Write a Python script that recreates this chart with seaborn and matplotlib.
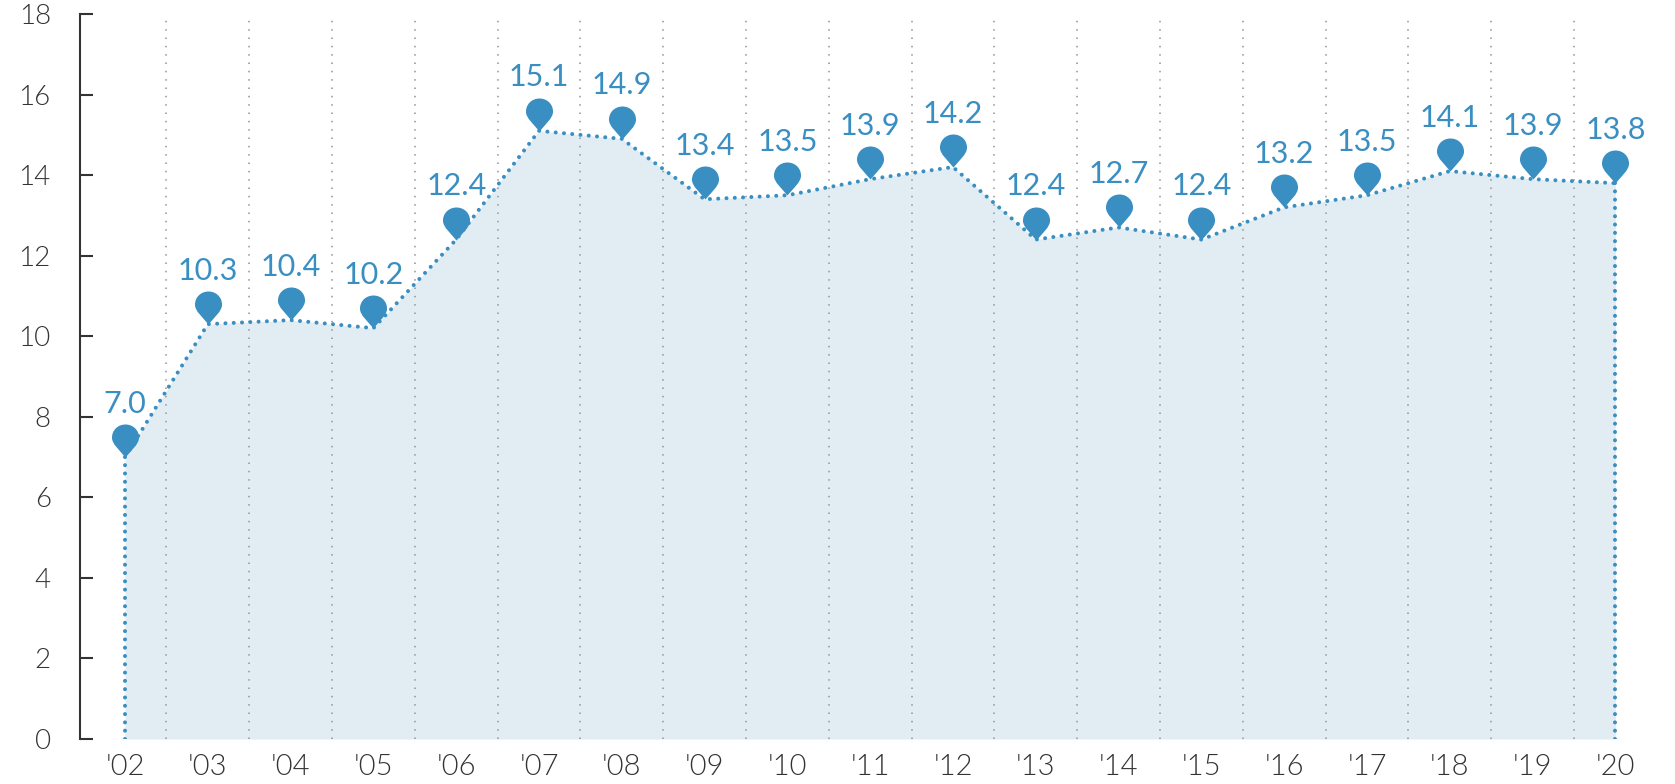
import matplotlib
matplotlib.use('Agg')
import matplotlib.pyplot as plt
import numpy as np
import pandas as pd
import seaborn as sns
from matplotlib.path import Path

years = ["'02", "'03", "'04", "'05", "'06", "'07", "'08", "'09", "'10", "'11",
         "'12", "'13", "'14", "'15", "'16", "'17", "'18", "'19", "'20"]
values = [7.0, 10.3, 10.4, 10.2, 12.4, 15.1, 14.9, 13.4, 13.5, 13.9,
          14.2, 12.4, 12.7, 12.4, 13.2, 13.5, 14.1, 13.9, 13.8]
y_ticks = [0, 2, 4, 6, 8, 10, 12, 14, 16, 18]

BLUE = '#3a8fc2'
FILL = '#e1ecf3'

sns.set_theme(style='white')
plt.rcParams['font.family'] = ['Lato', 'DejaVu Sans']

df = pd.DataFrame({'year': years, 'value': values})
df['pos'] = np.arange(len(df))

W, H = 1675, 784
fig = plt.figure(figsize=(W / 100, H / 100), dpi=100)
ax = fig.add_axes([80 / W, 1 - 739 / H, (1675 - 80) / W, (739 - 14) / H])

# category spacing is 82.8 px, first category 45 px from the axis
ax.set_xlim(-45 / 82.8, (1675 - 125) / 82.8)
ax.set_ylim(0, 18)

# area under the line
ax.fill_between(df['pos'], df['value'], 0, color=FILL, lw=0, zorder=1)

# dotted separators between years
ax.vlines(df['pos'].values[:-1] + 0.5, 0, 18, color='#9a9a9a', lw=1.2,
          linestyles=(0, (0.9, 4.1)), zorder=2)

# dotted line with round dots
dots = (0, (0.01, 2.05))
sns.lineplot(data=df, x='pos', y='value', ax=ax, color=BLUE, lw=2.9,
             linestyle='-', zorder=3, dashes=False, errorbar=None)
line = ax.lines[-1]
line.set_linestyle(dots)
line.set_dash_capstyle('round')
for i in [0, len(df) - 1]:
    ax.plot([df['pos'][i], df['pos'][i]], [0, df['value'][i]], color=BLUE, lw=2.9,
            linestyle=dots, dash_capstyle='round', zorder=3)

# map pin marker with its tip on the data point
pin = Path([(0, 0), (-0.16, 0.20), (-0.41, 0.40), (-0.41, 0.60),
            (-0.41, 0.83), (-0.23, 1.00), (0, 1.00),
            (0.23, 1.00), (0.41, 0.83), (0.41, 0.60),
            (0.41, 0.40), (0.16, 0.20), (0, 0), (0, 0)],
           [Path.MOVETO, Path.CURVE4, Path.CURVE4, Path.CURVE4,
            Path.CURVE4, Path.CURVE4, Path.CURVE4,
            Path.CURVE4, Path.CURVE4, Path.CURVE4,
            Path.CURVE4, Path.CURVE4, Path.CURVE4, Path.CLOSEPOLY])
sns.scatterplot(data=df, x='pos', y='value', ax=ax, marker=pin, s=2258, color=BLUE,
                linewidth=0, zorder=4, clip_on=False, legend=False)

# value labels above the pins
for i, row in df.iterrows():
    ax.annotate(f"{row['value']:.1f}", (row['pos'], row['value']), xytext=(0, 32),
                textcoords='offset points', ha='center', va='baseline',
                fontsize=22, color=BLUE, zorder=5)

ax.set_xticks(df['pos'])
ax.set_xticklabels(years, fontweight=300)
ax.set_yticks(y_ticks)
ax.set_yticklabels([str(t) for t in y_ticks], fontweight=300)
ax.set_xlabel('')
ax.set_ylabel('')
ax.tick_params(axis='x', length=0, pad=11, labelsize=21, labelcolor='#333333')
ax.tick_params(axis='y', direction='in', left=True, length=9.4, width=1.5, color='#333333',
               pad=21, labelsize=20, labelcolor='#333333')

for side in ['top', 'right', 'bottom']:
    ax.spines[side].set_visible(False)
ax.spines['left'].set_color('#333333')
ax.spines['left'].set_linewidth(1.5)

fig.savefig('out.png', dpi=100)
